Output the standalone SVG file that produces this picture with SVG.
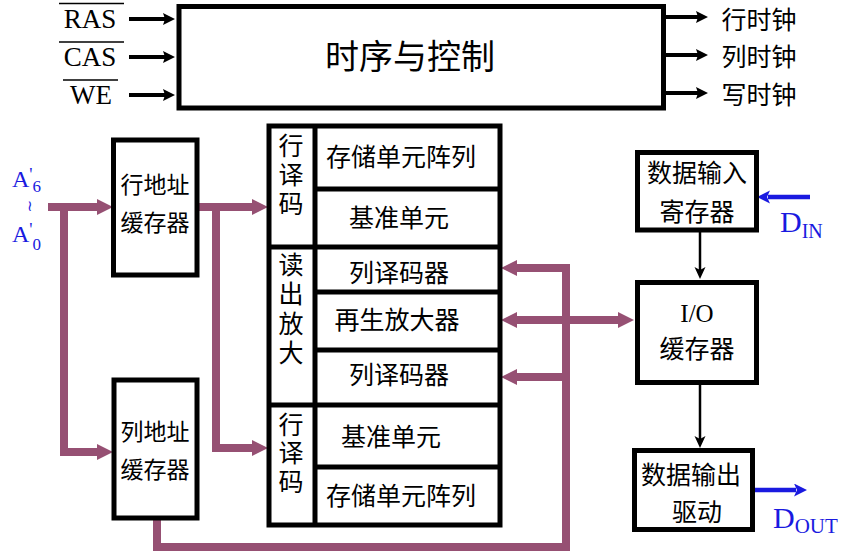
<svg xmlns="http://www.w3.org/2000/svg" width="861" height="552" viewBox="0 0 861 552">
<defs>
<style>
.box{fill:#fff;stroke:#000;stroke-width:5}
.ln{stroke:#000;stroke-width:5;fill:none}
.zh{font-family:"Liberation Serif","Noto Sans CJK SC",serif;font-size:25px;fill:#000;dominant-baseline:central;text-anchor:middle}
.zh23{font-size:23px}
.lat{font-family:"Liberation Serif","Times New Roman",serif;fill:#000}
.blue{font-family:"Liberation Serif","Times New Roman",serif;fill:#1a1ae0}
.pur{stroke:#965073;stroke-width:8;fill:none;stroke-linejoin:miter}
.blk{stroke:#000;stroke-width:4;fill:none}
.thin{stroke:#000;stroke-width:2.5;fill:none}
.bl{stroke:#1a1ae0;stroke-width:4.5;fill:none}
</style>
<marker id="pa" markerUnits="userSpaceOnUse" markerWidth="17" markerHeight="17" refX="1" refY="8" orient="auto-start-reverse">
<path d="M0,0 L16,8 L0,16 z" fill="#965073"/>
</marker>
<marker id="ka" markerUnits="userSpaceOnUse" markerWidth="13" markerHeight="13" refX="2" refY="6" orient="auto">
<path d="M0,0 L12,6 L0,12 L2,6 z" fill="#000"/>
</marker>
<marker id="ta" markerUnits="userSpaceOnUse" markerWidth="13" markerHeight="13" refX="3" refY="5.5" orient="auto">
<path d="M0,0 L12,5.5 L0,11 L3,5.5 z" fill="#000"/>
</marker>
<marker id="ba" markerUnits="userSpaceOnUse" markerWidth="14" markerHeight="14" refX="2" refY="6.5" orient="auto">
<path d="M0,0 L13,6.5 L0,13 L3,6.5 z" fill="#1a1ae0"/>
</marker>
</defs>

<g id="connectors">
<path class="blk" d="M129,19 H165" marker-end="url(#ka)"/>
<path class="blk" d="M129,57 H165" marker-end="url(#ka)"/>
<path class="blk" d="M129,95 H165" marker-end="url(#ka)"/>
<path class="blk" d="M665,17 H698" marker-end="url(#ka)"/>
<path class="blk" d="M665,55 H698" marker-end="url(#ka)"/>
<path class="blk" d="M665,93 H698" marker-end="url(#ka)"/>
<path class="pur" d="M48,207 H98" marker-end="url(#pa)"/>
<path class="pur" d="M64,207 V452 H98" marker-end="url(#pa)"/>
<path class="pur" d="M199,207 H253" marker-end="url(#pa)"/>
<path class="pur" d="M216,207 V448 H253" marker-end="url(#pa)"/>
<path class="pur" d="M157,520 V547 H566 V268 H516" marker-end="url(#pa)"/>
<path class="pur" d="M566,377 H516" marker-end="url(#pa)"/>
<path class="pur" d="M516,320 H619" marker-start="url(#pa)" marker-end="url(#pa)"/>
<path class="thin" d="M700,232 V270" marker-end="url(#ta)"/>
<path class="thin" d="M700,385 V439" marker-end="url(#ta)"/>
<path class="bl" d="M810,197 H768" marker-end="url(#ba)"/>
<path class="bl" d="M755,490 H796" marker-end="url(#ba)"/>
</g>

<g id="signals">
<text class="lat" x="90" y="28" font-size="27" text-anchor="middle">RAS</text>
<line x1="59" y1="3.5" x2="124" y2="3.5" stroke="#000" stroke-width="1.5"/>
<text class="lat" x="90" y="66" font-size="27" text-anchor="middle">CAS</text>
<line x1="59" y1="42" x2="124" y2="42" stroke="#000" stroke-width="1.5"/>
<text class="lat" x="91" y="104" font-size="27" text-anchor="middle">WE</text>
<line x1="63" y1="80" x2="118" y2="80" stroke="#000" stroke-width="1.5"/>
<text class="zh" x="759" y="20">行时钟</text>
<text class="zh" x="759" y="57">列时钟</text>
<text class="zh" x="759" y="95">写时钟</text>
</g>

<g id="address-label">
<text class="blue" x="12" y="187" font-size="24">A<tspan dy="-6" font-size="18">'</tspan><tspan dy="11" font-size="17">6</tspan></text>
<text x="30" y="211" font-family="DejaVu Serif, serif" font-size="15" fill="#1a1ae0" text-anchor="middle">≀</text>
<text class="blue" x="12" y="242" font-size="24">A<tspan dy="-6" font-size="18">'</tspan><tspan dy="14" font-size="17">0</tspan></text>
</g>

<g id="control">
<rect class="box" x="179" y="6.5" width="484.5" height="101.5"/>
<text class="zh" x="410" y="57" style="font-size:34px">时序与控制</text>
</g>

<g id="row-addr-buffer">
<rect class="box" x="113.5" y="140" width="83.5" height="135"/>
<text class="zh zh23" x="155" y="185">行地址</text>
<text class="zh zh23" x="155" y="223">缓存器</text>
</g>

<g id="col-addr-buffer">
<rect class="box" x="114" y="380" width="83" height="138"/>
<text class="zh zh23" x="155" y="432">列地址</text>
<text class="zh zh23" x="155" y="470">缓存器</text>
</g>

<g id="memory-block">
<rect class="box" x="269" y="126" width="231" height="399"/>
<line class="ln" x1="315" y1="126" x2="315" y2="525"/>
<line class="ln" x1="269" y1="247" x2="500" y2="247"/>
<line class="ln" x1="269" y1="405" x2="500" y2="405"/>
<line class="ln" x1="315" y1="189" x2="500" y2="189"/>
<line class="ln" x1="315" y1="292" x2="500" y2="292"/>
<line class="ln" x1="315" y1="350" x2="500" y2="350"/>
<line class="ln" x1="315" y1="467" x2="500" y2="467"/>
<text class="zh" x="291" y="146">行</text>
<text class="zh" x="291" y="175">译</text>
<text class="zh" x="291" y="204">码</text>
<text class="zh" x="291" y="265">读</text>
<text class="zh" x="291" y="294">出</text>
<text class="zh" x="291" y="324">放</text>
<text class="zh" x="291" y="353">大</text>
<text class="zh" x="291" y="425">行</text>
<text class="zh" x="291" y="453">译</text>
<text class="zh" x="291" y="482">码</text>
<text class="zh" x="401" y="157">存储单元阵列</text>
<text class="zh" x="399" y="218">基准单元</text>
<text class="zh" x="399" y="273">列译码器</text>
<text class="zh" x="397" y="320">再生放大器</text>
<text class="zh" x="399" y="375">列译码器</text>
<text class="zh" x="391" y="437">基准单元</text>
<text class="zh" x="401" y="496">存储单元阵列</text>
</g>

<g id="data-in-reg">
<rect class="box" x="637.5" y="152.5" width="119" height="77.5"/>
<text class="zh" x="697" y="173">数据输入</text>
<text class="zh" x="697" y="212">寄存器</text>
</g>

<g id="io-buffer">
<rect class="box" x="637.5" y="282.5" width="119" height="100"/>
<text class="lat" x="697" y="322" font-size="25" text-anchor="middle">I/O</text>
<text class="zh" x="697" y="349">缓存器</text>
</g>

<g id="data-out-driver">
<rect class="box" x="634.5" y="450.5" width="118" height="79"/>
<text class="zh" x="691" y="475">数据输出</text>
<text class="zh" x="697" y="512">驱动</text>
</g>

<g id="io-labels">
<text class="blue" x="780" y="232" font-size="30">D<tspan font-size="20" dy="6">IN</tspan></text>
<text class="blue" x="773" y="528" font-size="30">D<tspan font-size="21" dy="5">OUT</tspan></text>
</g>
</svg>
